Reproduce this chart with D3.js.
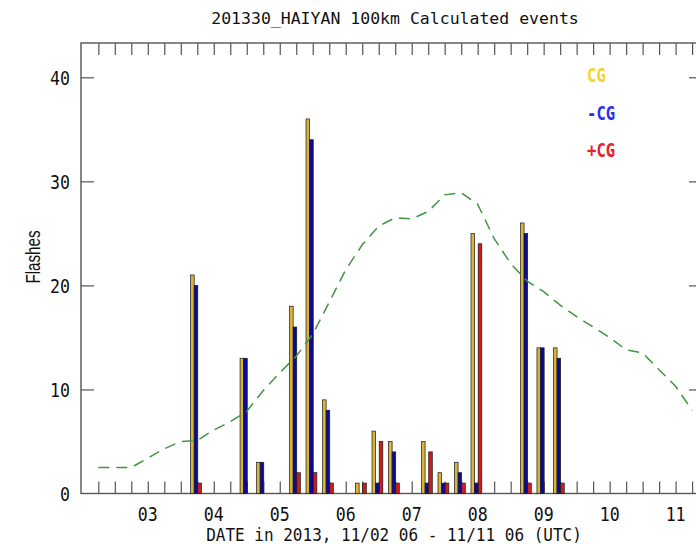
<!DOCTYPE html>
<html>
<head>
<meta charset="utf-8">
<script src="https://cdn.jsdelivr.net/npm/d3@7"></script>
<style>
  body { margin: 0; background: #fff; }
  text { font-family: "DejaVu Sans Mono", monospace; }
</style>
</head>
<body>
<svg id="chart" width="696" height="544"></svg>
<script>
// hours counted from 11/02 00 UTC, one group of bars per 6 hour bin
const barHours = [42, 60, 66, 78, 84, 90, 102, 108, 114, 126, 132, 138, 144, 162, 168, 174];
const cgAll = [21, 13, 3, 18, 36, 9, 1, 6, 5, 5, 2, 3, 25, 26, 14, 14];
const cgNeg = [20, 13, 3, 16, 34, 8, 0, 1, 4, 1, 1, 2, 1, 25, 14, 13];
const cgPos = [1, 0, 0, 2, 2, 1, 1, 5, 1, 4, 1, 1, 24, 1, 0, 1];

// green dashed curve, 6-hourly
const lineHours = [6, 12, 18, 24, 30, 36, 42, 48, 54, 60, 66, 72, 78, 84, 90, 96, 102, 108, 114,
  120, 126, 132, 138, 144, 150, 156, 162, 168, 174, 180, 186, 192, 198, 204, 210, 216, 222];
const lineValues = [2.5, 2.5, 2.5, 3.4, 4.3, 5.0, 5.1, 6.1, 6.9, 7.9, 9.9, 11.6, 13.2, 15.3, 18.4,
  21.5, 23.9, 25.7, 26.5, 26.4, 27.1, 28.7, 28.9, 27.8, 24.5, 22.1, 20.4, 19.4, 18.1, 17.0,
  16.0, 15.0, 13.8, 13.5, 11.9, 10.3, 8.0];

const tickHours = lineHours;
const dayHours = [24, 48, 72, 96, 120, 144, 168, 192, 216];
const dayLabels = ["03", "04", "05", "06", "07", "08", "09", "10", "11"];
const yTicks = [0, 10, 20, 30, 40];

const series = [
  { name: "CG", values: cgAll, fill: "#d8b43e", legend: "#f3d32e" },
  { name: "-CG", values: cgNeg, fill: "#0a0a9c", legend: "#2a2ff0" },
  { name: "+CG", values: cgPos, fill: "#cc1c1c", legend: "#e5222c" }
];

var svg = d3.select("#chart");
var plotL = 81, plotR = 702, plotT = 43, plotB = 493.5;

var x = d3.scaleLinear().domain([-0.3, 225.6]).range([plotL, plotR]);
var y = d3.scaleLinear().domain([0, 40]).range([plotB, 77.3]);

// narrow text, the original font is a half-width gothic
function label(txt, px, py, size, sx, anchor, color, weight) {
  return svg.append("text")
    .attr("transform", "translate(" + px + "," + py + ") scale(" + sx + ",1)")
    .attr("text-anchor", anchor)
    .style("font-size", size + "px")
    .style("font-weight", weight || "normal")
    .style("fill", color || "#111")
    .text(txt);
}

// ticks on all four sides, pointing inward
var tickStyle = function(g) {
  g.select(".domain").remove();
  g.selectAll(".tick line").attr("stroke", "#555").attr("stroke-width", 1.2);
  g.selectAll(".tick text").remove();
};
svg.append("g").attr("transform", "translate(0," + plotB + ")")
  .call(d3.axisBottom(x).tickValues(tickHours).tickSize(-12)).call(tickStyle);
svg.append("g").attr("transform", "translate(0," + plotT + ")")
  .call(d3.axisTop(x).tickValues(tickHours).tickSize(-12)).call(tickStyle);
svg.append("g").attr("transform", "translate(" + plotL + ",0)")
  .call(d3.axisLeft(y).tickValues(yTicks.slice(1)).tickSize(-13)).call(tickStyle);
svg.append("g").attr("transform", "translate(" + plotR + ",0)")
  .call(d3.axisRight(y).tickValues(yTicks.slice(1)).tickSize(-13)).call(tickStyle);

svg.append("rect")
  .attr("x", plotL).attr("y", plotT)
  .attr("width", plotR - plotL).attr("height", plotB - plotT)
  .attr("fill", "none").attr("stroke", "#555").attr("stroke-width", 1.4);

// bars
var bw = 3.6;
series.forEach(function(s, i) {
  var rows = barHours.map(function(h, j) { return { h: h, v: s.values[j] }; })
    .filter(function(d) { return d.v > 0; });
  svg.append("g").selectAll("rect")
    .data(rows)
    .enter()
      .append("rect")
      .attr("x", function(d) { return x(d.h) + (i - 2) * bw + 0.5; })
      .attr("y", function(d) { return y(d.v); })
      .attr("width", bw)
      .attr("height", function(d) { return y(0) - y(d.v); })
      .attr("fill", s.fill)
      .attr("stroke", "#1a1a1a")
      .attr("stroke-width", 0.7);
});

// dashed curve
var line = d3.line()
  .x(function(d) { return x(d[0]); })
  .y(function(d) { return y(d[1]); });
svg.append("path")
  .datum(lineHours.map(function(h, i) { return [h, lineValues[i]]; }))
  .attr("d", line)
  .attr("fill", "none")
  .attr("stroke", "#3f963f")
  .attr("stroke-width", 1.5)
  .attr("stroke-dasharray", "11,7");

// tick labels
yTicks.forEach(function(v) {
  label(String(v), 70, y(v) + 7.5, 20, 0.83, "end");
});
dayHours.forEach(function(h, i) {
  label(dayLabels[i], x(h), 521, 20, 0.83, "middle");
});

// titles
label("201330_HAIYAN 100km Calculated events", 395, 24, 16.5, 1, "middle");
label("DATE in 2013, 11/02 06 - 11/11 06 (UTC)", 394, 541, 18, 0.89, "middle");
svg.append("text")
  .attr("transform", "translate(40,257) rotate(-90) scale(0.76,1)")
  .attr("text-anchor", "middle")
  .style("font-family", "'Liberation Sans', sans-serif")
  .style("font-size", "20px")
  .style("fill", "#111")
  .text("Flashes");

// legend
series.forEach(function(s, i) {
  label(s.name, 587, 82 + i * 37.5, 20, 0.78, "start", s.legend, "bold");
});
</script>
</body>
</html>
